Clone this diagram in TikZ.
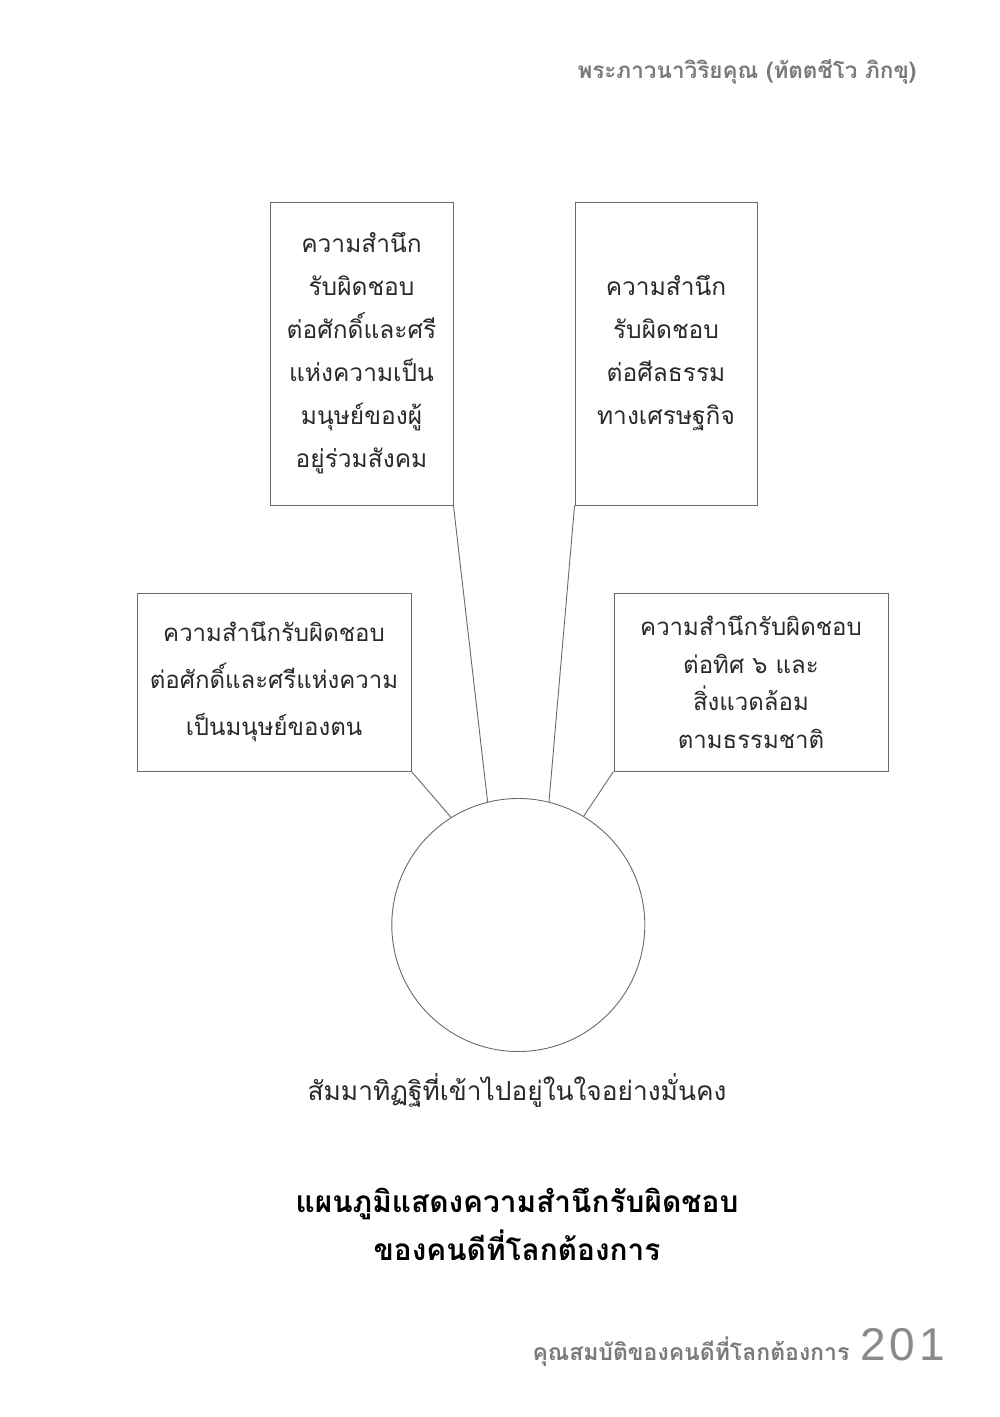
\documentclass[tikz,border=0pt]{standalone}
\usepackage{fontspec}
\newfontfamily\thai[Script=Thai]{Loma}
\setsansfont{Liberation Sans}
\definecolor{linegray}{HTML}{6A6A6A}
\definecolor{headgray}{HTML}{7A7A7A}
\definecolor{numgray}{HTML}{8A8A8A}
\definecolor{textdark}{HTML}{2A2A2A}
\begin{document}
\begin{tikzpicture}[x=1pt,y=-1pt,
  box/.style={draw=linegray, line width=0.9pt, align=center, inner sep=0pt, text=textdark},
  link/.style={draw=linegray, line width=0.9pt}]
\useasboundingbox (0,0) rectangle (1000,1417);
\fill[white] (0,0) rectangle (1000,1417);

\node[anchor=east, text=headgray, font=\thai\bfseries\fontsize{22.5}{26}\selectfont] (head) at (920,72) {พระภาวนาวิริยคุณ (ทัตตชีโว ภิกขุ)};

\node[box, minimum width=183pt, minimum height=303pt, font=\thai\fontsize{24.5}{43}\selectfont] (tl) at (361.5,353.5)
  {ความสำนึก\\รับผิดชอบ\\ต่อศักดิ์และศรี\\แห่งความเป็น\\มนุษย์ของผู้\\อยู่ร่วมสังคม};
\node[box, minimum width=182pt, minimum height=303pt, font=\thai\fontsize{24.5}{43}\selectfont] (tr) at (666,353.5)
  {ความสำนึก\\รับผิดชอบ\\ต่อศีลธรรม\\ทางเศรษฐกิจ};
\node[box, minimum width=274pt, minimum height=178pt, font=\thai\fontsize{24}{47}\selectfont] (l) at (274,682)
  {ความสำนึกรับผิดชอบ\\ต่อศักดิ์และศรีแห่งความ\\เป็นมนุษย์ของตน};
\node[box, minimum width=274pt, minimum height=178pt, font=\thai\fontsize{24}{37.5}\selectfont] (r) at (751,682)
  {ความสำนึกรับผิดชอบ\\ต่อทิศ ๖ และ\\สิ่งแวดล้อม\\ตามธรรมชาติ};

\node[draw=linegray, line width=0.9pt, circle, minimum size=253pt, inner sep=0pt] (c) at (518.3,925) {};

\draw[link] (l.south east) -- (c.122.5);
\draw[link] (tl.south east) -- (c.104.7);
\draw[link] (tr.south west) -- (c.76.7);
\draw[link] (r.south west) -- (c.59.4);

\node[text=textdark, font=\thai\fontsize{26.3}{32}\selectfont] (cap) at (517,1090) {สัมมาทิฏฐิที่เข้าไปอยู่ในใจอย่างมั่นคง};

\node[align=center, text=black, font=\thai\bfseries\fontsize{29.8}{48}\selectfont] (title) at (517,1224)
  {แผนภูมิแสดงความสำนึกรับผิดชอบ\\ของคนดีที่โลกต้องการ};

\node[anchor=base west, inner sep=0pt, text=numgray, font=\sffamily\fontsize{46}{50}\selectfont] (num) at (860,1360) {2\kern4pt0\kern4pt1};
\node[anchor=base east, text=headgray, font=\thai\bfseries\fontsize{23}{26}\selectfont] (foot) at (853,1360) {คุณสมบัติของคนดีที่โลกต้องการ};
\end{tikzpicture}
\end{document}
